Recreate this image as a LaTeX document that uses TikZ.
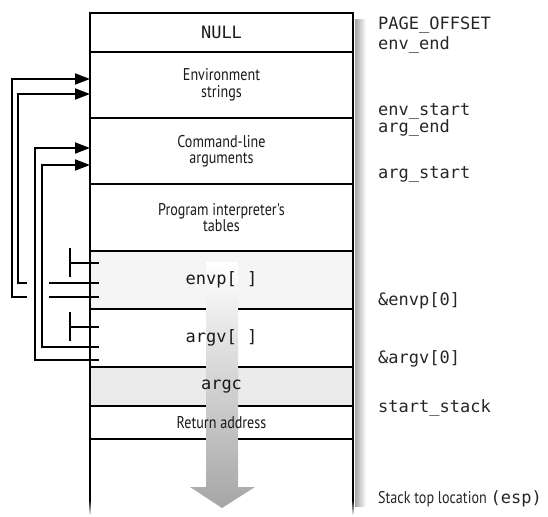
\documentclass[tikz,border=0pt]{standalone}
\usepackage{fontspec}
\setmainfont{PT Sans}
\newfontfamily\cond{PT Sans}[FakeStretch=0.83]
\newfontfamily\mono{DejaVu Sans Mono}
\usetikzlibrary{arrows.meta,positioning,calc}
\pgfdeclarelayer{back}
\pgfdeclarelayer{mid}
\pgfsetlayers{back,mid,main}

\begin{document}
\begin{tikzpicture}[x=1pt, y=-1pt,
  cell/.style={minimum width=263pt, inner sep=0pt, outer sep=0pt, align=center, text=black!90},
  txt/.style={font=\cond\fontsize{17}{16.5}\selectfont},
  code/.style={font=\mono\fontsize{17}{18}\selectfont},
  lbl/.style={anchor=base west, inner sep=0pt, text=black!85, font=\mono\fontsize{17}{18}\selectfont},
  wall/.style={line width=1.8pt},
  ptr/.style={line width=1.8pt},
  gap/.style={draw=white, line width=5pt},
  >={Triangle[length=15pt,width=11pt]}]
  \useasboundingbox (0,0) rectangle (548,516);

  % the stack, top to bottom
  \node[cell, code, minimum height=39pt, anchor=north] (null) at (221.5,13) {NULL};
  \node[cell, txt, minimum height=66pt, below=0pt of null] (envs) {Environment\\strings};
  \node[cell, txt, minimum height=66pt, below=0pt of envs] (args) {Command-line\\arguments};
  \node[cell, txt, minimum height=67pt, below=0pt of args] (interp) {Program interpreter's\\tables};
  \node[cell, code, minimum height=58pt, below=0pt of interp] (envp) {envp[ ]};
  \node[cell, code, minimum height=58pt, below=0pt of envp] (argv) {argv[ ]};
  \node[cell, code, minimum height=39pt, below=0pt of argv] (argc) {argc};
  \node[cell, txt, minimum height=33pt, below=0pt of argc] (ret) {Return address};

  \begin{pgfonlayer}{back}
    \shade[left color=black!35, right color=white] (355,20) rectangle (366,506);
    \fill[black!4] (envp.north west) rectangle (envp.south east);
    \fill[black!8] (argc.north west) rectangle (argc.south east);
    \foreach \r in {null,envs,args,interp,envp,argv,argc,ret}
      \draw[wall] (\r.south west) -- (\r.south east);
    \draw[wall] (90,500) -- (null.north west) -- (null.north east) -- (353,500);
    \shade[top color=black, bottom color=white] (89.1,500) rectangle (90.9,515);
    \shade[top color=black, bottom color=white] (352.1,500) rectangle (353.9,515);
  \end{pgfonlayer}

  % stack growth
  \begin{pgfonlayer}{mid}
    \shade[top color=white, bottom color=black!35] (206,262) -- (238,262) -- (238,487)
      -- (255,487) -- (222,508) -- (190,487) -- (206,487) -- cycle;
  \end{pgfonlayer}

  % pointer slots and targets
  \coordinate (e1) at ($(envp.west)+(9,3)$);
  \coordinate (e2) at ($(envp.west)+(9,17)$);
  \coordinate (en) at ($(envp.west)+(9,-17)$);
  \coordinate (a1) at ($(argv.west)+(9,9)$);
  \coordinate (a2) at ($(argv.west)+(9,22)$);
  \coordinate (an) at ($(argv.west)+(9,-11)$);
  \coordinate (tE1) at ($(envs.west)+(0,-6)$);
  \coordinate (tE2) at ($(envs.west)+(0,9)$);
  \coordinate (tA1) at ($(args.west)+(0,-3)$);
  \coordinate (tA2) at ($(args.west)+(0,14)$);

  \draw[ptr,->] (e1) -| ([xshift=-72pt]tE2) -- (tE2);
  \draw[ptr,->] (e2) -| ([xshift=-78pt]tE1) -- (tE1);
  \draw[gap] (27,283) -- (49,283);
  \draw[gap] (27,297) -- (49,297);
  \draw[ptr,->] (a1) -| ([xshift=-48pt]tA2) -- (tA2);
  \draw[ptr,->] (a2) -| ([xshift=-55pt]tA1) -- (tA1);
  \draw[ptr] (en) -- ++(-29,0) ++(0,-15) -- ++(0,29);
  \draw[ptr] (an) -- ++(-29,0) ++(0,-15) -- ++(0,29);

  % addresses
  \node[lbl] (pgoff) at (378,30) {PAGE\_OFFSET};
  \node[lbl] (envend) at (378,50) {env\_end};
  \node[lbl] (envstart) at (378,115) {env\_start};
  \node[lbl] (argend) at (378,132) {arg\_end};
  \node[lbl] (argstart) at (378,178) {arg\_start};
  \node[lbl] (envp0) at (378,305) {\&envp[0]};
  \node[lbl] (argv0) at (378,363) {\&argv[0]};
  \node[lbl] (sstack) at (378,412) {start\_stack};
  \node[lbl] (esp) at (378,503) {{\cond\fontsize{17}{18}\selectfont Stack top location }(esp)};
\end{tikzpicture}
\end{document}
